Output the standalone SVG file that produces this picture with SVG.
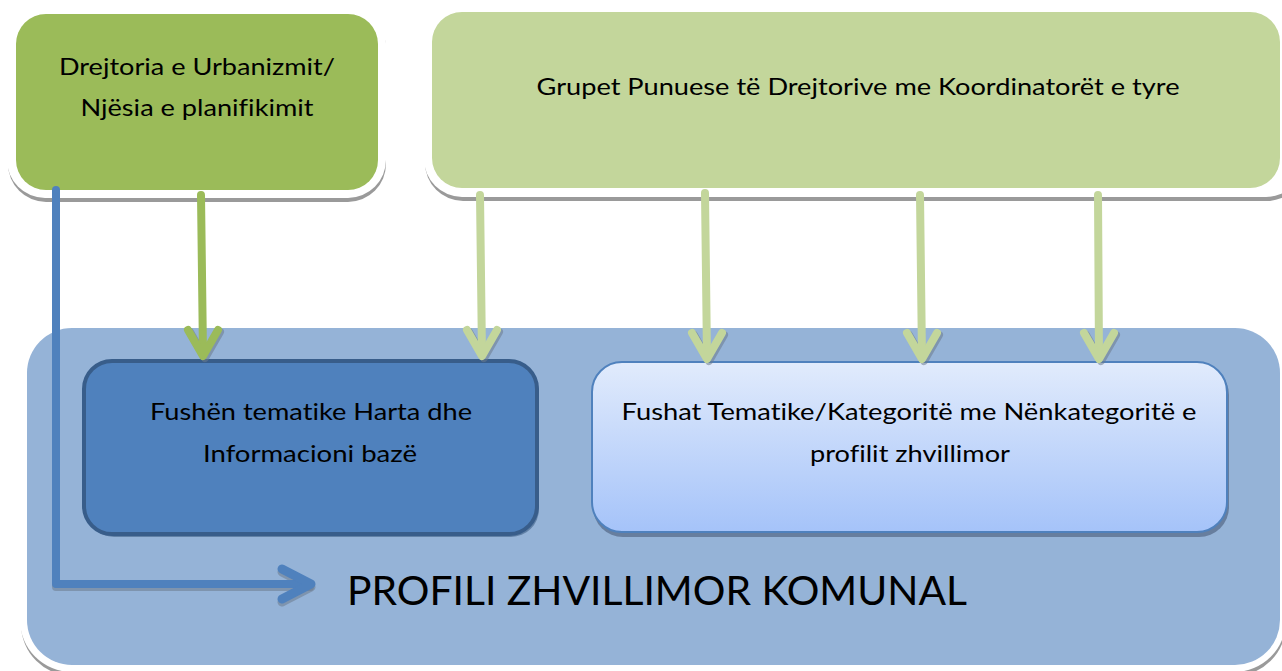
<svg xmlns="http://www.w3.org/2000/svg" width="1282" height="671" viewBox="0 0 1282 671">
<style>
.t{font-family:Lato,"Open Sans","Liberation Sans",sans-serif;font-size:23px;fill:#000;text-anchor:middle;font-variant-ligatures:none}
.big{font-size:40px}
.rim{fill:#fff}
.rimsh{fill:#9a9a9a}
.arr{fill:none;stroke-linecap:round;stroke-linejoin:round}
.sh{stroke:#6b7a8c;opacity:0.55}
</style>
<defs>
<linearGradient id="lg" x1="0" y1="0" x2="0" y2="1">
<stop offset="0" stop-color="#E1EBFC"/>
<stop offset="1" stop-color="#A5C3F9"/>
</linearGradient>
</defs>
<rect width="1282" height="671" fill="#fff"/>

<g id="node-urbanizmi">
<rect class="rimsh" x="8" y="10" width="378" height="192" rx="38"/>
<rect class="rim" x="7" y="6" width="379" height="192" rx="38"/>
<rect x="16" y="14" width="362" height="176" rx="30" fill="#9BBB59"/>
<text class="t" x="197" y="75" textLength="276" lengthAdjust="spacingAndGlyphs">Drejtoria e Urbanizmit/</text>
<text class="t" x="197" y="116" textLength="233" lengthAdjust="spacingAndGlyphs">Njësia e planifikimit</text>
</g>

<g id="node-grupet">
<rect class="rimsh" x="425" y="8" width="880" height="193" rx="38"/>
<rect class="rim" x="424" y="4" width="880" height="193" rx="38"/>
<rect x="432" y="12" width="848" height="176" rx="30" fill="#C3D69B"/>
<text class="t" x="858" y="95" textLength="643" lengthAdjust="spacingAndGlyphs">Grupet Punuese të Drejtorive me Koordinatorët e tyre</text>
</g>

<g id="node-profili">
<rect class="rimsh" x="21" y="324" width="1265" height="352" rx="52"/>
<rect class="rim" x="20" y="320" width="1266" height="352" rx="52"/>
<rect x="27" y="328" width="1253" height="337" rx="45" fill="#95B3D7"/>
<text class="t big" x="657" y="605" textLength="620" lengthAdjust="spacingAndGlyphs">PROFILI ZHVILLIMOR KOMUNAL</text>
</g>

<g id="node-harta">
<rect x="86" y="364" width="453" height="173" rx="28" fill="#3F5F86" opacity="0.6"/>
<rect x="84" y="361" width="453" height="173" rx="28" fill="#4F81BD" stroke="#385D8A" stroke-width="4"/>
<text class="t" x="311" y="420" textLength="322" lengthAdjust="spacingAndGlyphs">Fushën tematike Harta dhe</text>
<text class="t" x="310" y="462" textLength="214" lengthAdjust="spacingAndGlyphs">Informacioni bazë</text>
</g>

<g id="node-fushat">
<rect x="593" y="365" width="636" height="172" rx="30" fill="#5B7190" opacity="0.8"/>
<rect x="592" y="362" width="635" height="170" rx="30" fill="url(#lg)" stroke="#4F81BD" stroke-width="2"/>
<text class="t" x="909" y="420" textLength="575" lengthAdjust="spacingAndGlyphs">Fushat Tematike/Kategoritë me Nënkategoritë e</text>
<text class="t" x="910" y="462" textLength="200" lengthAdjust="spacingAndGlyphs">profilit zhvillimor</text>
</g>

<g id="connectors">
<g transform="translate(0,3)">
<path class="arr sh" d="M56 190 V584 H310" stroke-width="8"/>
<path class="arr sh" d="M282 569 L311 584 L282 599" stroke-width="9"/>
</g>
<path class="arr" d="M56 190 V584 H310" stroke="#4F81BD" stroke-width="8" stroke-linecap="butt"/>
<path class="arr" d="M282 569 L311 584 L282 599" stroke="#4F81BD" stroke-width="9"/>

<g transform="translate(2,2)">
<path class="arr sh" d="M188 330 L203 356 L218 330" stroke-width="8"/>
</g>
<path class="arr" d="M201 195 L203 354" stroke="#9BBB59" stroke-width="8" stroke-linecap="butt"/>
<path class="arr" d="M188 330 L203 356 L218 330" stroke="#9BBB59" stroke-width="8"/>

<g transform="translate(2,2)">
<path class="arr sh" d="M467 330 L482 356 L497 330" stroke-width="8"/>
<path class="arr sh" d="M692 333 L707 359 L722 333" stroke-width="8"/>
<path class="arr sh" d="M907 333 L922 359 L937 333" stroke-width="8"/>
<path class="arr sh" d="M1084 333 L1099 359 L1114 333" stroke-width="8"/>
</g>
<g stroke="#C3D69B">
<path class="arr" d="M480 195 L482 354" stroke-width="8" stroke-linecap="butt"/>
<path class="arr" d="M467 330 L482 356 L497 330" stroke-width="8"/>
<path class="arr" d="M705 193 L707 357" stroke-width="8" stroke-linecap="butt"/>
<path class="arr" d="M692 333 L707 359 L722 333" stroke-width="8"/>
<path class="arr" d="M920 195 L922 357" stroke-width="8" stroke-linecap="butt"/>
<path class="arr" d="M907 333 L922 359 L937 333" stroke-width="8"/>
<path class="arr" d="M1098 195 L1099 357" stroke-width="8" stroke-linecap="butt"/>
<path class="arr" d="M1084 333 L1099 359 L1114 333" stroke-width="8"/>
</g>
</g>
</svg>
